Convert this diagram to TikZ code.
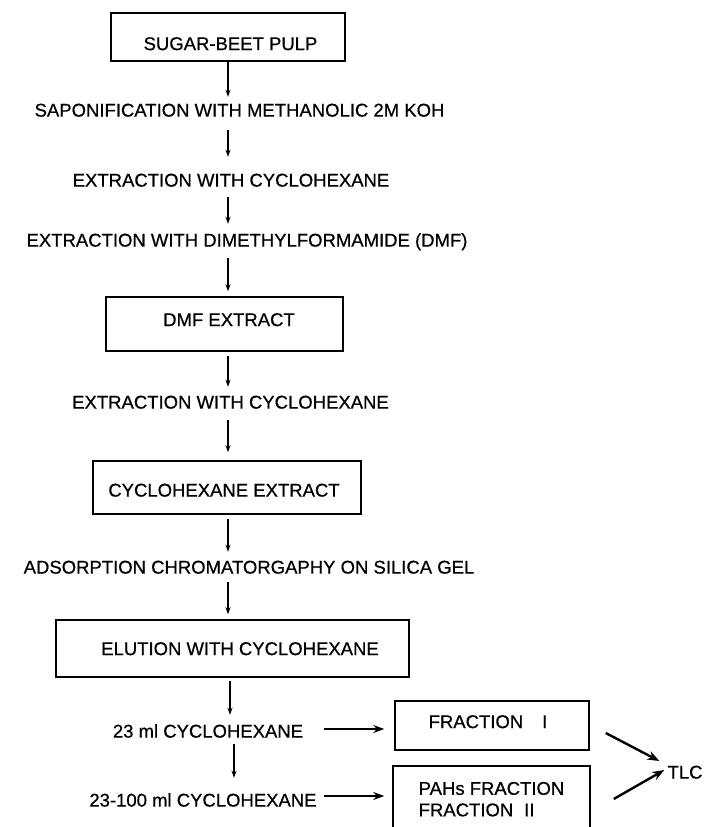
\documentclass[tikz,border=0pt]{standalone}
\usepackage{fontspec}
\setmainfont{Liberation Sans}[FakeBold=0.6]
\usetikzlibrary{arrows.meta,calc}
\begin{document}
\begin{tikzpicture}[x=1pt,y=-1pt,
  every node/.style={font=\fontsize{18.5}{21.5}\selectfont, inner sep=0pt, text height=13.2pt, text depth=0pt},
  box/.style={draw, line width=1.5pt},
  varr/.style={line width=1.4pt, -{Stealth[length=7pt,width=5pt]}},
  harr/.style={line width=2pt, -{Stealth[length=11pt,width=8pt]}},
  darr/.style={line width=2.4pt, -{Stealth[length=12pt,width=9pt]}}]
\useasboundingbox (0,0) rectangle (706,827);
\clip (0,0) rectangle (706,827);

% boxes
\node[box, minimum width=234pt, minimum height=48pt] (b1) at (228,37) {\hspace*{5pt}\raisebox{-6.5pt}{SUGAR-BEET PULP}};
\node[box, minimum width=237pt, minimum height=54pt] (b2) at (224.5,324) {\hspace*{9pt}\raisebox{4.5pt}{DMF EXTRACT}};
\node[box, minimum width=268pt, minimum height=53pt] (b3) at (227,487.5) {\raisebox{-2.5pt}{CYCLOHEXANE EXTRACT}\hspace*{6pt}};
\node[box, minimum width=353pt, minimum height=57pt] (b4) at (232.5,648.5) {\hspace*{15pt}ELUTION WITH CYCLOHEXANE};
\node[box, minimum width=194pt, minimum height=49pt] (b5) at (492,725.5) {\raisebox{4pt}{FRACTION\hspace{19pt}I}\hspace*{8pt}};
\node[box, minimum width=197pt, minimum height=66pt] (b6) at (491.5,799) {\begin{tabular}{@{}l@{}}PAHs FRACTION\\FRACTION\hspace{11pt}II\end{tabular}};

% step labels
\node (t1) at (239.5,110) {SAPONIFICATION WITH METHANOLIC 2M KOH};
\node (t2) at (231,180) {EXTRACTION WITH CYCLOHEXANE};
\node (t3) at (247,240) {EXTRACTION WITH DIMETHYLFORMAMIDE (DMF)};
\node (t4) at (230.5,402) {EXTRACTION WITH CYCLOHEXANE};
\node (t5) at (249,567) {ADSORPTION CHROMATORGAPHY ON SILICA GEL};
\node (t6) at (208,731) {23 ml CYCLOHEXANE};
\node (t7) at (203,800) {23-100 ml CYCLOHEXANE};
\node (tlc) at (685,772) {TLC};

\coordinate (ax) at (228,0);
\coordinate (ax2) at (230,0);
\coordinate (ax3) at (234,0);

% vertical arrows
\draw[varr, shorten >=6.4pt] (b1.south) -- (t1.north -| ax);
\draw[varr, shorten <=13.4pt, shorten >=16.4pt] (t1.south -| ax) -- (t2.north -| ax);
\draw[varr, shorten <=10.4pt, shorten >=9.4pt] (t2.south -| ax) -- (t3.north -| ax);
\draw[varr, shorten <=11.4pt, shorten >=5pt] (t3.south -| ax) -- (b2.north -| ax);
\draw[varr, shorten <=4pt, shorten >=8.4pt] (b2.south -| ax) -- (t4.north -| ax);
\draw[varr, shorten <=11.4pt, shorten >=8pt] (t4.south -| ax) -- (b3.north -| ax);
\draw[varr, shorten <=4pt, shorten >=8.4pt] (b3.south -| ax) -- (t5.north -| ax);
\draw[varr, shorten <=8.4pt, shorten >=5pt] (t5.south -| ax) -- (b4.north -| ax);
\draw[varr, shorten <=3pt, shorten >=9.4pt] (b4.south -| ax2) -- (t6.north -| ax2);
\draw[varr, shorten <=6.4pt, shorten >=15.4pt] (t6.south -| ax3) -- (t7.north -| ax3);

% horizontal arrows
\draw[harr, shorten <=21pt, shorten >=10pt] ([yshift=2pt]t6.east) -- ([yshift=2pt]t6.east -| b5.west);
\draw[harr, shorten <=7pt, shorten >=8pt] ([yshift=4pt]t7.east) -- ([yshift=4pt]t7.east -| b6.west);

% to TLC
\draw[darr] ($(b5.east)+(16,7.5)$) -- ($(tlc.west)+(-8,-11)$);
\draw[darr] ($(b6.east)+(23,0)$) -- ($(tlc.west)+(-3,-2)$);
\end{tikzpicture}
\end{document}
